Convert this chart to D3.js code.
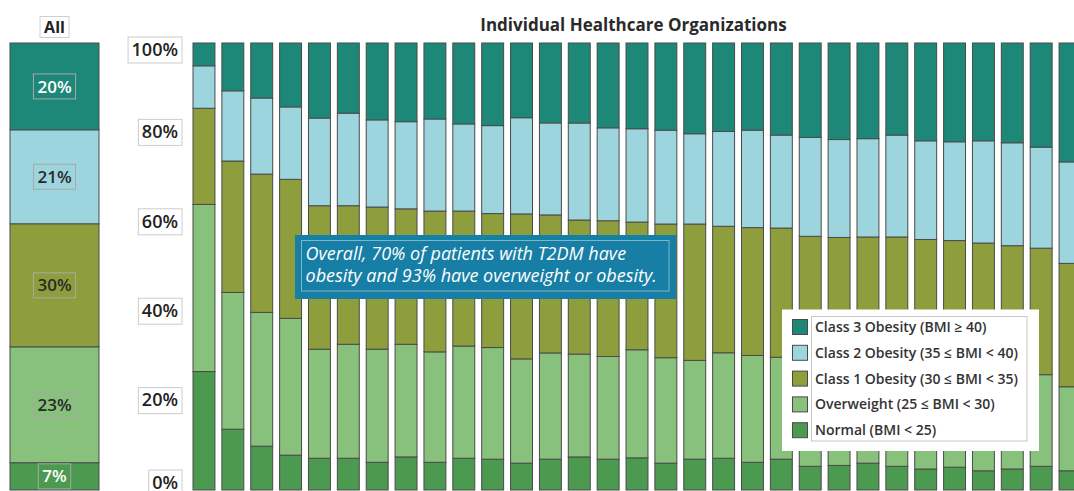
<!DOCTYPE html>
<html>
<head>
<meta charset="utf-8">
<script src="https://cdn.jsdelivr.net/npm/d3@7"></script>
<style>
  body { margin: 0; background: #fff; }
  svg { display: block; font-family: "Open Sans", sans-serif; }
</style>
</head>
<body>
<div id="holder"></div>
<script>
// share of patients per BMI class, one entry per healthcare organization (left to right)
const orgs = ['HCO 1','HCO 2','HCO 3','HCO 4','HCO 5','HCO 6','HCO 7','HCO 8','HCO 9','HCO 10',
              'HCO 11','HCO 12','HCO 13','HCO 14','HCO 15','HCO 16','HCO 17','HCO 18','HCO 19','HCO 20',
              'HCO 21','HCO 22','HCO 23','HCO 24','HCO 25','HCO 26','HCO 27','HCO 28','HCO 29','HCO 30','HCO 31'];
const normal     = [26.5, 13.6, 9.8, 7.8, 7.1, 7.1, 6.2, 7.4, 6.2, 7.1, 6.9, 6.0, 6.9, 7.4, 6.9, 7.2, 6.0, 6.9, 7.1, 6.2, 6.9, 5.3, 5.5, 6.0, 5.3, 4.7, 5.1, 4.3, 4.7, 5.3, 4.3];
const overweight = [37.4, 30.6, 29.9, 30.6, 24.4, 25.5, 25.3, 25.2, 24.7, 25.1, 25.0, 23.3, 23.8, 23.0, 23.0, 24.2, 23.6, 22.1, 23.6, 23.9, 22.8, 23.3, 22.7, 22.9, 22.4, 22.6, 22.4, 22.4, 22.1, 20.5, 18.8];
const class1     = [21.5, 29.4, 30.9, 31.1, 32.1, 31.0, 31.8, 30.3, 31.5, 30.2, 30.0, 32.4, 30.9, 30.0, 30.4, 28.6, 29.9, 30.5, 28.3, 28.6, 28.9, 28.1, 28.3, 27.7, 28.9, 28.8, 28.3, 28.6, 27.8, 28.3, 27.6];
const class2     = [9.5, 15.7, 17.0, 16.2, 19.6, 20.7, 19.5, 19.5, 20.6, 19.5, 19.7, 21.5, 20.6, 21.7, 20.8, 20.9, 21.0, 20.2, 21.2, 21.8, 20.8, 22.1, 21.9, 22.0, 22.8, 22.1, 22.1, 22.9, 23.0, 22.6, 22.7];
const class3     = [5.1, 10.7, 12.3, 14.3, 16.8, 15.7, 17.2, 17.6, 17.0, 18.1, 18.5, 16.7, 17.9, 17.9, 19.0, 19.2, 19.5, 20.3, 19.8, 19.5, 20.6, 21.1, 21.6, 21.4, 20.6, 21.9, 22.1, 21.9, 22.3, 23.3, 26.6];

// pooled "All" bar (bottom to top) and its printed labels
const allValues = [6.1, 25.9, 27.5, 21.0, 19.4];
const allLabels = ['7%', '23%', '30%', '21%', '20%'];

const keys = ['normal', 'overweight', 'class1', 'class2', 'class3'];
const legendLabels = ['Normal (BMI < 25)', 'Overweight (25 ≤ BMI < 30)', 'Class 1 Obesity (30 ≤ BMI < 35)',
                      'Class 2 Obesity (35 ≤ BMI < 40)', 'Class 3 Obesity (BMI ≥ 40)'];
const yTicks = [0, 0.2, 0.4, 0.6, 0.8, 1];
const noteLines = ['Overall, 70% of patients with T2DM have', 'obesity and 93% have overweight or obesity.'];

const w = 1074;
const h = 491;
const colors = ['#4b9a50', '#88c17b', '#8f9e3d', '#9dd5df', '#1e8878'];

const svg = d3.select('#holder')
    .append('svg')
    .attr('width', w)
    .attr('height', h);

const color = d3.scaleOrdinal().domain(keys).range(colors);
const yScale = d3.scaleLinear().domain([0, 1]).range([490, 43]);

const rows = orgs.map((o, i) => ({
    org: o, normal: normal[i], overweight: overweight[i], class1: class1[i], class2: class2[i], class3: class3[i]
}));
const allRow = { org: 'All' };
keys.forEach((k, i) => allRow[k] = allValues[i]);

const stack = d3.stack().keys(keys).offset(d3.stackOffsetExpand);
const series = stack(rows);
const allSeries = stack([allRow]);

const xScale = d3.scaleBand().domain(orgs).range([193, 1081]).paddingInner(0.24).paddingOuter(0);
const xAll = d3.scaleBand().domain(['All']).range([10, 99]).padding(0);

// organization bars
svg.append('g')
    .selectAll('g')
    .data(series)
    .join('g')
    .attr('fill', d => color(d.key))
    .selectAll('rect')
    .data(d => d)
    .join('rect')
    .attr('x', d => xScale(d.data.org))
    .attr('y', d => yScale(d[1]))
    .attr('width', xScale.bandwidth())
    .attr('height', d => yScale(d[0]) - yScale(d[1]))
    .attr('stroke', '#4a4a4a')
    .attr('stroke-width', 1);

// All bar
const allG = svg.append('g');
allG.selectAll('rect')
    .data(allSeries)
    .join('rect')
    .attr('x', xAll('All'))
    .attr('y', d => yScale(d[0][1]))
    .attr('width', xAll.bandwidth())
    .attr('height', d => yScale(d[0][0]) - yScale(d[0][1]))
    .attr('fill', d => color(d.key))
    .attr('stroke', '#4a4a4a')
    .attr('stroke-width', 1);

const allText = allG.selectAll('g.lab')
    .data(allSeries)
    .join('g')
    .attr('class', 'lab')
    .attr('transform', d => 'translate(' + (xAll('All') + xAll.bandwidth() / 2) + ',' + ((yScale(d[0][0]) + yScale(d[0][1])) / 2) + ')');
allText.append('text')
    .attr('text-anchor', 'middle')
    .attr('dy', '0.36em')
    .attr('font-size', 17)
    .attr('font-weight', 600)
    .attr('fill', d => (d.key === 'class3' || d.key === 'normal') ? '#fff' : '#2a2a2a')
    .text((d, i) => allLabels[i]);
allText.each(function() {
    const b = d3.select(this).select('text').node().getBBox();
    d3.select(this).insert('rect', 'text')
        .attr('x', b.x - 4).attr('y', -12.5)
        .attr('width', b.width + 8).attr('height', 25)
        .attr('fill', 'none')
        .attr('stroke', '#a8a8a8')
        .attr('stroke-width', 1);
});

// "All" heading
const allHead = svg.append('g').attr('transform', 'translate(54.5,27)');
allHead.append('rect')
    .attr('x', -14.5).attr('y', -10.5).attr('width', 29).attr('height', 21)
    .attr('fill', '#fff').attr('stroke', '#cfcfcf');
allHead.append('text')
    .attr('text-anchor', 'middle').attr('dy', '0.36em')
    .attr('font-size', 16).attr('font-weight', 700).attr('fill', '#222')
    .text('All');

// y axis with boxed labels
const yAxis = d3.axisLeft(yScale).tickValues(yTicks).tickSize(0).tickPadding(4).tickFormat(d3.format('.0%'));
const yG = svg.append('g')
    .attr('transform', 'translate(182,0)')
    .call(yAxis);
yG.select('.domain').remove();
yG.selectAll('.tick')
    .attr('transform', d => 'translate(0,' + Math.max(50, Math.min(483, yScale(d))) + ')');
yG.selectAll('.tick text')
    .attr('font-family', '"Open Sans", sans-serif')
    .attr('font-size', 18)
    .attr('font-weight', 600)
    .attr('fill', '#222');
yG.selectAll('.tick').each(function() {
    const t = d3.select(this).select('text');
    const b = t.node().getBBox();
    d3.select(this).insert('rect', 'text')
        .attr('x', b.x - 3.5).attr('y', -13)
        .attr('width', b.width + 7.5).attr('height', 26)
        .attr('fill', '#fff')
        .attr('stroke', '#cccccc');
});

// title
svg.append('text')
    .attr('x', 633.5).attr('y', 30.5)
    .attr('text-anchor', 'middle')
    .attr('font-size', 17).attr('font-weight', 700).attr('fill', '#2a2a2a')
    .text('Individual Healthcare Organizations');

// callout
const note = svg.append('g');
note.append('rect')
    .attr('x', 295).attr('y', 235).attr('width', 381).attr('height', 64)
    .attr('fill', '#177ea5');
note.append('rect')
    .attr('x', 301.5).attr('y', 240.5).attr('width', 367.5).attr('height', 50.5)
    .attr('fill', 'none').attr('stroke', '#7fb3c8').attr('stroke-width', 1);
note.append('text')
    .attr('y', 260)
    .attr('font-size', 18).attr('font-style', 'italic').attr('fill', '#fff')
    .selectAll('tspan')
    .data(noteLines)
    .join('tspan')
    .attr('x', 305.5)
    .attr('dy', (d, i) => i === 0 ? 0 : 21.5)
    .text(d => d);

// legend (top row = Class 3)
const legend = svg.append('g');
legend.append('rect')
    .attr('x', 782).attr('y', 309.5).attr('width', 257).attr('height', 141.5)
    .attr('fill', '#fff');
legend.append('rect')
    .attr('x', 811.5).attr('y', 316.5).attr('width', 215.5).attr('height', 124.5)
    .attr('fill', 'none').attr('stroke', '#c6c6c6');
const legendKeys = keys.slice().reverse();
const li = legend.selectAll('g.item')
    .data(legendKeys)
    .join('g')
    .attr('class', 'item')
    .attr('transform', (d, i) => 'translate(0,' + (327 + i * 25.8) + ')');
li.append('rect')
    .attr('x', 792.5).attr('y', -7.5).attr('width', 15).attr('height', 15)
    .attr('fill', d => color(d)).attr('stroke', '#4a4a4a');
li.append('text')
    .attr('x', 815).attr('dy', '0.36em')
    .attr('font-size', 14).attr('font-weight', 600).attr('fill', '#333')
    .text(d => legendLabels[keys.indexOf(d)]);
</script>
</body>
</html>
